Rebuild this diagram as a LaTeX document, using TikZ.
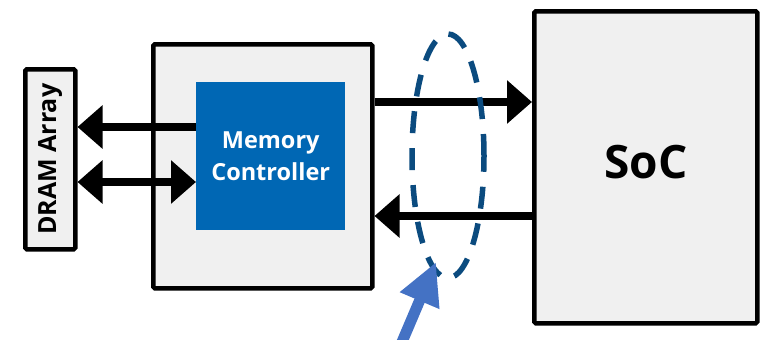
\documentclass[tikz,border=0pt]{standalone}
\usepackage{fontspec}
\setmainfont{Open Sans}
\usetikzlibrary{arrows.meta}
\definecolor{boxgray}{HTML}{F0F0F0}
\definecolor{mcblue}{HTML}{0067B4}
\definecolor{dashblue}{HTML}{0B4B7F}
\definecolor{ptrblue}{HTML}{4472C4}
\begin{document}
\begin{tikzpicture}[x=1pt,y=-1pt,
  box/.style={draw=black,line width=4.5pt,fill=boxgray,rounded corners=1.5pt},
  bus/.style={line width=8pt,-{Triangle[length=25pt,width=42pt]}},
  dbus/.style={line width=8pt,{Triangle[length=25pt,width=42pt]}-{Triangle[length=25pt,width=42pt]}}]
\useasboundingbox (0,0) rectangle (761,340);
% boxes
\node[box,minimum width=219pt,minimum height=244pt,anchor=north west,inner sep=0pt] (mem) at (151,42) {};
\node[box,minimum width=223pt,minimum height=312pt,anchor=north west,inner sep=0pt] (soc) at (532,9) {};
\node[font=\bfseries\fontsize{46}{52}\selectfont] (soclbl) at ([yshift=5pt]soc.center) {SoC};
\node[box,minimum width=50pt,minimum height=180pt,anchor=north west,inner sep=0pt] (dram) at (23,67) {};
\node[rotate=90,font=\bfseries\fontsize{25}{30}\selectfont] (dramlbl) at (dram.center) {DRAM Array};
\node[fill=mcblue,minimum width=149pt,minimum height=148pt,anchor=north west,inner sep=0pt,
  text=white,align=center,font=\bfseries\fontsize{23.5}{32}\selectfont] (mc) at (196,82) {Memory\\Controller};
% connectors
\coordinate (m1) at (mc.west |- 0,127);
\coordinate (d1) at (dram.east |- 0,127);
\coordinate (m2) at (mc.west |- 0,182);
\coordinate (d2) at (dram.east |- 0,182);
\draw[bus] (m1) -- (d1);
\draw[dbus] (d2) -- (m2);
\coordinate (a1) at (mem.east |- 0,102);
\coordinate (b1) at (soc.west |- 0,102);
\coordinate (a2) at (mem.east |- 0,216);
\coordinate (b2) at (soc.west |- 0,216);
\draw[bus] (a1) -- (b1);
\draw[bus] (b2) -- (a2);
% dashed ellipse
\draw[dashblue,line width=5.5pt,dash pattern=on 22pt off 15pt] (448,156) ellipse [x radius=36pt,y radius=122pt];
% pointer arrow
\coordinate (p0) at (402,342);
\coordinate (p1) at (436,262);
\draw[ptrblue,line width=11pt,-{Triangle[length=42pt,width=40pt]}] (p0) -- (p1);
\end{tikzpicture}
\end{document}
